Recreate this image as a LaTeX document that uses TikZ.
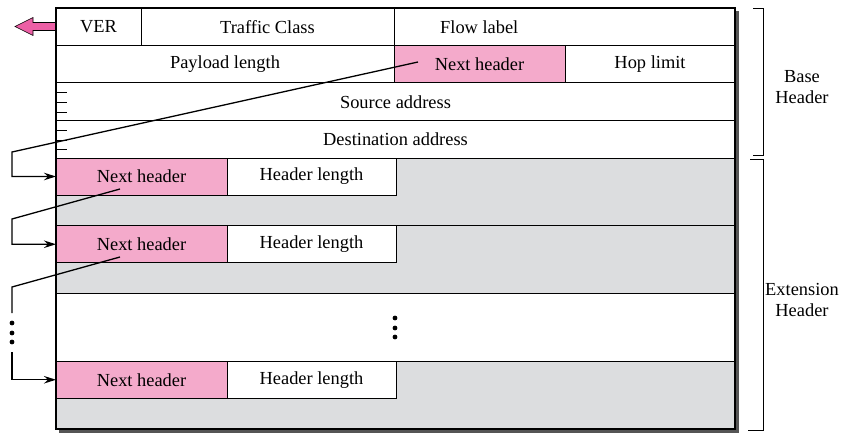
\documentclass[tikz,border=0pt]{standalone}
\usepackage{fontspec}
\setmainfont{Liberation Serif}
\usetikzlibrary{arrows.meta, positioning, calc}
\definecolor{nhpink}{HTML}{F4AACB}
\definecolor{arrowpink}{HTML}{EC5FA5}
\definecolor{extgray}{HTML}{DCDDDF}
\definecolor{shadowgray}{HTML}{555555}

\begin{document}
\begin{tikzpicture}[
  x=1pt, y=-1pt,
  cell/.style={draw, fill=white, line width=1pt, anchor=north west, inner sep=0pt, outer sep=0pt,
    minimum height=37.5, font=\fontsize{18.4}{21}\selectfont},
  nhcell/.style={cell, fill=nhpink, minimum height=37},
  hlcell/.style={cell, fill=white, minimum height=37},
  extrow/.style={cell, fill=extgray, minimum width=679, minimum height=67.75},
  txt/.style={inner sep=0pt, font=\fontsize{18.4}{21}\selectfont},
  link/.style={-{Stealth[length=12pt, width=7.5pt]}, line width=1.3pt},
  wire/.style={line width=1.3pt},
  dot/.style={circle, fill, inner sep=0pt, minimum size=4.8pt}
]
\useasboundingbox (0,0) rectangle (864,433);
\fill[shadowgray] (59,11) rectangle (738.5,432.5);

% extension header rows
\node[extrow] (ext1) at (56,158) {};
\node[extrow] (ext2) at (56,225.75) {};
\node[extrow, fill=white] (gap) at (56,293.5) {};
\node[extrow] (ext3) at (56,361.25) {};

% base header
\node[cell, minimum width=85] (ver) at (56,8) {VER};
\node[cell, minimum width=253, right=0pt of ver] (tc) {Traffic Class};
\node[cell, minimum width=341, right=0pt of tc] (flow) {};
\node[txt] (flowtxt) at ($(flow.west)!0.25!(flow.east)$) {Flow label};
\node[cell, minimum width=338] (pl) at (56,45.5) {Payload length};
\node[nhcell, minimum height=37.5, minimum width=171, right=0pt of pl] (nh0) {Next header};
\node[cell, minimum width=170, right=0pt of nh0] (hop) {Hop limit};
\node[cell, minimum width=679] (src) at (56,83) {Source address};
\node[cell, minimum width=679] (dst) at (56,120.5) {Destination address};

\foreach \i in {1,2,3} {
  \node[nhcell, minimum width=171] (nh\i) at (ext\i.north west) {Next header};
  \node[hlcell, minimum width=169, right=0pt of nh\i] (hl\i) {Header length};
}

% pink arrow
\draw[fill=arrowpink, line width=0.6pt] (56,22.5) -- (33,22.5) -- (33,17.5) -- (15,26.5)
  -- (33,35.5) -- (33,30.5) -- (56,30.5);

% frame
\draw[line width=1.2pt] (ver.north west) rectangle (ext3.south east);
\draw[line width=2pt] (ver.north west) -- (ext3.south west);
\foreach \y in {92,102,112,130,140,149}
  \draw[line width=0.8pt] (56,\y) -- (67,\y);

% next header chain
\coordinate (s0) at (418,62);
\coordinate (b0) at (12,152);
\draw[link] (s0) -- (b0) |- (nh1.west);
\coordinate (s1) at (120,189);
\coordinate (b1) at (12,219);
\draw[link] (s1) -- (b1) |- (nh2.west);
\coordinate (s2) at (120,257);
\coordinate (b2) at (12,287);
\coordinate (e2) at (12,313);
\draw[wire] (s2) -- (b2) -- (e2);
\foreach \y in {323,333,342}
  \node[dot] at (12,\y) {};
\coordinate (b3) at (12,352);
\draw[link] (b3) |- (nh3.west);

\foreach \y in {318,328,337}
  \node[dot] at (395,\y) {};

% brackets
\draw[line width=0.9pt] (753,8) -- (763,8) -- (763,155) -- (753,155);
\draw[line width=0.9pt] (750,159) -- (763,159) -- (763,430) -- (748,430);
\node[txt, align=center] (basel) at (802,87) {Base\\Header};
\node[txt, align=center] (extl) at (802,300) {Extension\\Header};
\end{tikzpicture}
\end{document}
